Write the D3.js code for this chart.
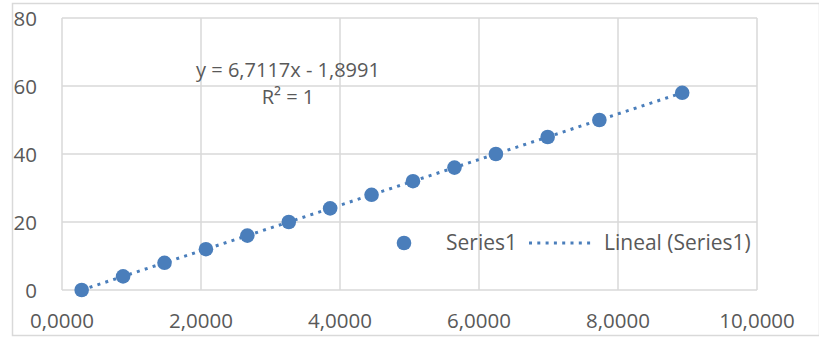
<!DOCTYPE html>
<html>
<head>
<meta charset="utf-8">
<script src="https://cdn.jsdelivr.net/npm/d3@7"></script>
<style>
  body { margin: 0; background: #fff; }
  svg text { font-family: "Open Sans", sans-serif; fill: #595959; }
</style>
</head>
<body>
<svg id="chart" width="819" height="339"></svg>
<script>
const svg = d3.select("#chart"),
    width = +svg.attr("width"),
    height = +svg.attr("height");

// data
const xValues = [0.283, 0.879, 1.475, 2.071, 2.667, 3.263, 3.858, 4.454, 5.050, 5.647, 6.243, 6.988, 7.732, 8.924];
const yValues = [0, 4, 8, 12, 16, 20, 24, 28, 32, 36, 40, 45, 50, 58];
const xTicks = [0, 2, 4, 6, 8, 10];
const yTicks = [0, 20, 40, 60, 80];
const slope = 6.7117, intercept = -1.8991;
const seriesName = "Series1";
const trendName = "Lineal (Series1)";

const blue = "#4a7ebb";
const grid = "#d9d9d9";

const margin = {left: 62, right: 62, top: 18, bottom: 49};

const x = d3.scaleLinear().domain([0, 10]).range([margin.left, width - margin.right]);
const y = d3.scaleLinear().domain([0, 80]).range([height - margin.bottom, margin.top]);

// outer border
svg.append("rect")
    .attr("x", 12.5).attr("y", 3.5)
    .attr("width", width - 12).attr("height", 332)
    .attr("fill", "none").attr("stroke", grid).attr("stroke-width", 1.5);

// gridlines
svg.append("g").selectAll("line.gx")
    .data(xTicks).enter().append("line")
    .attr("x1", d => x(d)).attr("x2", d => x(d))
    .attr("y1", y(0)).attr("y2", y(80))
    .attr("stroke", grid).attr("stroke-width", 1.5);
svg.append("g").selectAll("line.gy")
    .data(yTicks).enter().append("line")
    .attr("y1", d => y(d)).attr("y2", d => y(d))
    .attr("x1", x(0)).attr("x2", x(10))
    .attr("stroke", grid).attr("stroke-width", 1.5);

// tick labels
const fmt = d => d3.format(".4f")(d).replace(".", ",");
svg.append("g").selectAll("text")
    .data(xTicks).enter().append("text")
    .attr("x", d => x(d)).attr("y", 328)
    .attr("text-anchor", "middle")
    .style("font-size", "20.5px")
    .text(fmt);
svg.append("g").selectAll("text")
    .data(yTicks).enter().append("text")
    .attr("x", 37).attr("y", d => y(d) + 7.5)
    .attr("text-anchor", "end")
    .style("font-size", "20.5px")
    .text(d => d);

// trendline
const xmin = d3.min(xValues), xmax = d3.max(xValues);
svg.append("line")
    .attr("x1", x(xmin)).attr("y1", y(slope * xmin + intercept))
    .attr("x2", x(xmax)).attr("y2", y(slope * xmax + intercept))
    .attr("stroke", blue).attr("stroke-width", 3)
    .attr("stroke-dasharray", "3 5.3");

// points
svg.append("g").selectAll("circle")
    .data(xValues).enter().append("circle")
    .attr("cx", d => x(d))
    .attr("cy", (d, i) => y(yValues[i]))
    .attr("r", 7.3)
    .attr("fill", blue);

// equation
svg.append("text")
    .attr("x", 288).attr("y", 77)
    .attr("text-anchor", "middle")
    .style("font-size", "20px")
    .text("y = " + String(slope).replace(".", ",") + "x - " + String(-intercept).replace(".", ","));
svg.append("text")
    .attr("x", 288).attr("y", 104)
    .attr("text-anchor", "middle")
    .style("font-size", "20px")
    .text("R² = 1");

// legend
const leg = svg.append("g");
leg.append("circle").attr("cx", 404).attr("cy", 243).attr("r", 7.3).attr("fill", blue);
leg.append("text").attr("x", 446).attr("y", 250).style("font-size", "21px").text(seriesName);
leg.append("line")
    .attr("x1", 529).attr("x2", 592).attr("y1", 243).attr("y2", 243)
    .attr("stroke", blue).attr("stroke-width", 3)
    .attr("stroke-dasharray", "3 5.3");
leg.append("text").attr("x", 604).attr("y", 250).style("font-size", "21px").text(trendName);
</script>
</body>
</html>
